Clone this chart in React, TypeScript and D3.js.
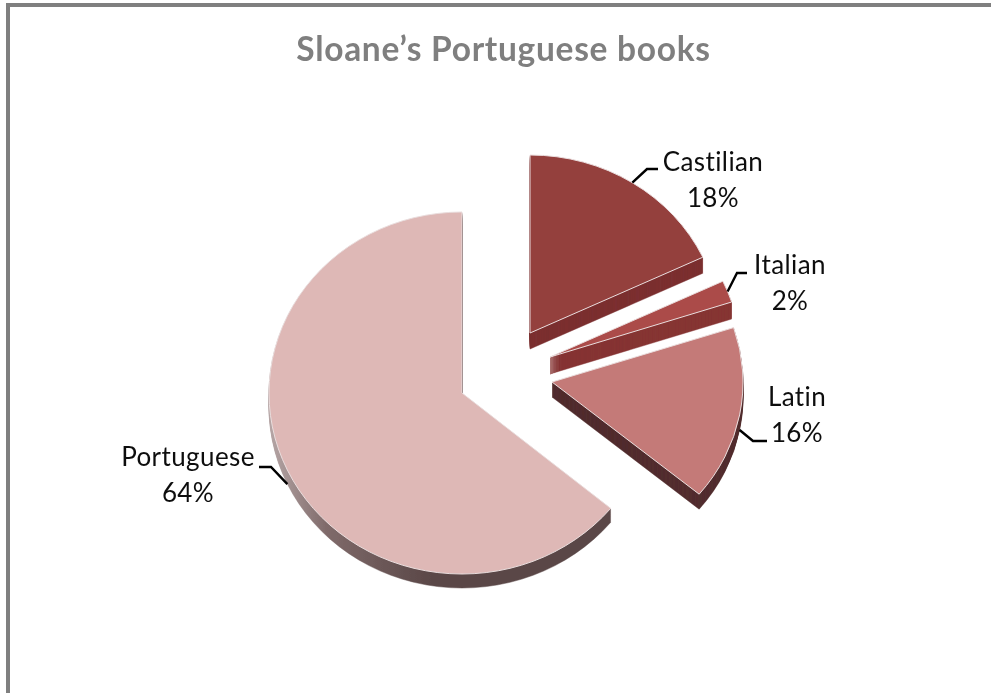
import React from "react";
import * as d3 from "d3";

const categories = ["Castilian", "Italian", "Latin", "Portuguese"];
const shares = [18, 2, 16, 64];
const titleText = "Sloane’s Portuguese books";

const topColors = ["#943f3e", "#ab4b49", "#c47a78", "#deb8b6"];
const sideColors = ["#7c3031", "#863534", "#522e2f", "url(#portSide)"];
const centers: [number, number][] = [[530, 333], [550, 357], [552, 382], [462, 393]];
const radiiX = [191, 191, 191, 193];
const radiiY = [178, 178, 176, 181];
const depths = [16, 17, 15, 14];
const labelPos: [number, number][] = [[713, 171], [790, 274], [797, 406], [188, 466]];
const elbows: [number, number][][] = [
  [[647, 169], [658, 169]],
  [[737, 273], [747, 273]],
  [[753, 441], [767, 441]],
  [[271, 467], [259, 467]],
];

export default function App() {
  const arcs = d3.pie<number>().sort(null).startAngle(0).endAngle(2 * Math.PI)(shares);
  const gen = d3.arc<d3.PieArcDatum<number>>().innerRadius(0);
  const line = d3.line();
  const order = [3, 2, 1, 0];
  return (
    <svg width={991} height={693} style={{ position: "absolute", left: 0, top: 0, background: "#fff" }}>
      <defs>
        <linearGradient id="portSide" gradientUnits="userSpaceOnUse" x1={-192} x2={-30} y1={0} y2={0}>
          <stop offset="0" stopColor="#b5a5a5" />
          <stop offset="0.35" stopColor="#7f6a6a" />
          <stop offset="1" stopColor="#5a4747" />
        </linearGradient>
        <filter id="soft" x="-5%" y="-5%" width="110%" height="110%">
          <feGaussianBlur stdDeviation="0.45" />
        </filter>
      </defs>
      <path d="M8 693V5H991" fill="none" stroke="#7f7f7f" strokeWidth={4} />
      <g filter="url(#soft)">
        <text x={503.5} y={61} textAnchor="middle" fontFamily="Lato" fontWeight={700} fontSize={33.5} letterSpacing={0.7} fill="#7f7f7f">
          {titleText}
        </text>
        {order.map((i) => {
          const a = arcs[i];
          const [cx, cy] = centers[i];
          const rx = radiiX[i];
          const ry = radiiY[i];
          const d = gen.outerRadius(rx)(a) as string;
          const layers = d3.range(depths[i], 0, -1);
          return (
            <g key={categories[i]}>
              {layers.map((dy) => (
                <path
                  key={dy}
                  d={d}
                  fill={sideColors[i]}
                  stroke={sideColors[i]}
                  strokeWidth={0.5}
                  transform={`translate(${cx},${cy + dy}) scale(1,${ry / rx})`}
                />
              ))}
              <path
                d={d}
                fill={topColors[i]}
                stroke="#eadede"
                strokeWidth={1}
                vectorEffect="non-scaling-stroke"
                transform={`translate(${cx},${cy}) scale(1,${ry / rx})`}
              />
            </g>
          );
        })}
        {arcs.map((a, i) => {
          const mid = (a.startAngle + a.endAngle) / 2;
          const [cx, cy] = centers[i];
          const py = cy - Math.cos(mid) * radiiY[i];
          const start: [number, number] = [
            cx + Math.sin(mid) * radiiX[i],
            Math.cos(mid) < 0 ? py + depths[i] : py,
          ];
          return (
            <path
              key={categories[i]}
              d={line([start, ...elbows[i]]) as string}
              fill="none"
              stroke="#000"
              strokeWidth={2.4}
            />
          );
        })}
        {categories.map((c, i) => (
          <text key={c} textAnchor="middle" fontFamily="Lato" fontSize={26} letterSpacing={0.4} fill="#111">
            <tspan x={labelPos[i][0]} y={labelPos[i][1]}>{c}</tspan>
            <tspan x={labelPos[i][0]} y={labelPos[i][1] + 36}>{shares[i]}%</tspan>
          </text>
        ))}
      </g>
    </svg>
  );
}
